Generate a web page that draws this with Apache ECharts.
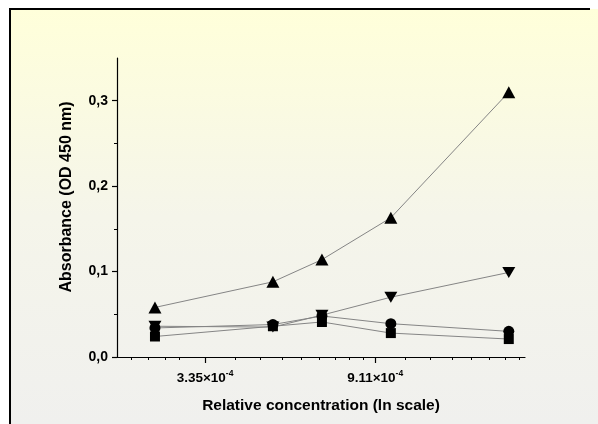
<!DOCTYPE html>
<html>
<head>
<meta charset="utf-8">
<script src="https://cdn.jsdelivr.net/npm/echarts@6/dist/echarts.min.js"></script>
<style>
  html, body { margin: 0; padding: 0; background: #ffffff; overflow: hidden; }
  #chart { width: 598px; height: 424px; }
</style>
</head>
<body>
<div id="chart"></div>
<script>
// Relative concentration of each dilution (plotted on a natural-log axis)
const concentrations = [2.5e-4, 5e-4, 6.67e-4, 1e-3, 2e-3];

// Absorbance readings (OD 450 nm), one array per sample
const absUpTriangle   = [0.058, 0.088, 0.114, 0.163, 0.310];
const absDownTriangle = [0.036, 0.035, 0.049, 0.070, 0.099];
const absCircle       = [0.034, 0.038, 0.048, 0.039, 0.030];
const absSquare       = [0.024, 0.036, 0.041, 0.028, 0.021];

// Axis ranges and ticks
const xRange = [2e-4, 2.2e-3];
const xMajorLn = [-8, -7];                 // e^-8, e^-7
const xTickMantissa = ['3.35×10', '9.11×10'];
const xTickExponent = ['-4', '-4'];
const xMinorTicks = [2.18e-4, 2.41e-4, 2.65e-4, 2.88e-4,
  4.00e-4, 4.64e-4, 5.28e-4, 5.92e-4, 6.56e-4, 7.20e-4, 7.84e-4, 8.48e-4,
  10.86e-4, 12.60e-4, 14.34e-4, 16.08e-4, 17.82e-4, 19.57e-4, 21.31e-4];
const yRange = [0, 0.35];
const yMajorTicks = [0, 0.1, 0.2, 0.3];
const yTickLabels = ['0,0', '0,1', '0,2', '0,3'];
const yMinorTicks = [0.05, 0.15, 0.25];

const FONT = '"Liberation Sans", Arial, Helvetica, sans-serif';
const ln = Math.log;

function toPoints(values) {
  return concentrations.map((c, i) => [ln(c), values[i]]);
}

const chart = echarts.init(document.getElementById('chart'), null, { renderer: 'canvas' });

const grid = { left: 117, top: 58, right: 73, bottom: 67 };
const xMin = ln(xRange[0]), xMax = ln(xRange[1]);

function lineSeries(name, values, symbol, size, rotate) {
  return {
    name: name,
    type: 'line',
    xAxisIndex: 0,
    yAxisIndex: 0,
    data: toPoints(values),
    symbol: symbol,
    symbolSize: size,
    symbolRotate: rotate || 0,
    showAllSymbol: true,
    lineStyle: { color: '#858585', width: 1 },
    itemStyle: { color: '#000000', borderWidth: 0 },
    emphasis: { disabled: true },
    animation: false,
    z: 3
  };
}

chart.setOption({
  animation: false,
  backgroundColor: 'transparent',
  graphic: [
    {
      type: 'rect',
      z: -10,
      shape: { x: 10, y: 9, width: 588, height: 415 },
      style: {
        fill: new echarts.graphic.LinearGradient(0, 0, 0, 1, [
          { offset: 0, color: '#FFFFDA' },
          { offset: 0.5, color: '#F5F5EA' },
          { offset: 1, color: '#F0F0EE' }
        ])
      },
      silent: true
    },
    {
      // frame: top edge
      type: 'line',
      z: -9,
      shape: { x1: 9, y1: 9, x2: 590, y2: 9 },
      style: { stroke: '#000000', lineWidth: 2 },
      silent: true
    },
    {
      // frame: left edge
      type: 'line',
      z: -9,
      shape: { x1: 10, y1: 8, x2: 10, y2: 424 },
      style: { stroke: '#000000', lineWidth: 2 },
      silent: true
    },
    {
      type: 'text',
      z: 5,
      x: 67,
      y: 197,
      rotation: Math.PI / 2,
      style: {
        text: 'Absorbance (OD 450 nm)',
        font: 'bold 16px ' + FONT,
        fill: '#000000',
        align: 'center',
        verticalAlign: 'middle'
      },
      silent: true
    }
  ],
  grid: grid,
  xAxis: [
    {
      type: 'value',
      min: xMin,
      max: xMax,
      position: 'bottom',
      name: 'Relative concentration (ln scale)',
      nameLocation: 'middle',
      nameGap: 41,
      nameTextStyle: { fontFamily: FONT, fontWeight: 'bold', fontSize: 15.5, color: '#000' },
      axisLine: { show: true, onZero: false, lineStyle: { color: '#000', width: 1.2 } },
      axisTick: { show: true, inside: false, length: 6, customValues: xMajorLn, lineStyle: { color: '#000', width: 1.2 } },
      axisLabel: {
        show: true,
        customValues: xMajorLn,
        margin: 12,
        formatter: function (v) {
          let i = xMajorLn.findIndex(t => Math.abs(t - v) < 1e-6);
          if (i < 0) return '';
          return '{m|' + xTickMantissa[i] + '}{e|' + xTickExponent[i] + '}';
        },
        rich: {
          m: { fontFamily: FONT, fontWeight: 'bold', fontSize: 13.5, color: '#000' },
          e: { fontFamily: FONT, fontWeight: 'bold', fontSize: 8.5, color: '#000', padding: [0, 0, 9, 0] }
        }
      },
      splitLine: { show: false }
    },
    {
      type: 'value',
      min: xMin,
      max: xMax,
      position: 'bottom',
      axisLine: { show: false, onZero: false },
      axisTick: { show: true, inside: false, length: 3, customValues: xMinorTicks.map(ln), lineStyle: { color: '#000', width: 1 } },
      axisLabel: { show: false },
      splitLine: { show: false }
    }
  ],
  yAxis: [
    {
      type: 'value',
      min: yRange[0],
      max: yRange[1],
      position: 'left',
      axisLine: { show: true, onZero: false, lineStyle: { color: '#000', width: 1.2 } },
      axisTick: { show: true, inside: false, length: 5, customValues: yMajorTicks, lineStyle: { color: '#000', width: 1.2 } },
      axisLabel: {
        show: true,
        customValues: yMajorTicks,
        margin: 9,
        fontFamily: FONT,
        fontWeight: 'bold',
        fontSize: 14,
        color: '#000',
        formatter: function (v) {
          let i = yMajorTicks.findIndex(t => Math.abs(t - v) < 1e-9);
          return i < 0 ? '' : yTickLabels[i];
        }
      },
      splitLine: { show: false }
    },
    {
      type: 'value',
      min: yRange[0],
      max: yRange[1],
      position: 'left',
      axisLine: { show: false, onZero: false },
      axisTick: { show: true, inside: false, length: 3, customValues: yMinorTicks, lineStyle: { color: '#000', width: 1 } },
      axisLabel: { show: false },
      splitLine: { show: false }
    }
  ],
  series: [
    lineSeries('A', absUpTriangle, 'triangle', [13, 12], 0),
    lineSeries('B', absDownTriangle, 'triangle', [13, 11], 180),
    lineSeries('C', absCircle, 'circle', 11, 0),
    lineSeries('D', absSquare, 'rect', 10, 0)
  ]
});
</script>
</body>
</html>
